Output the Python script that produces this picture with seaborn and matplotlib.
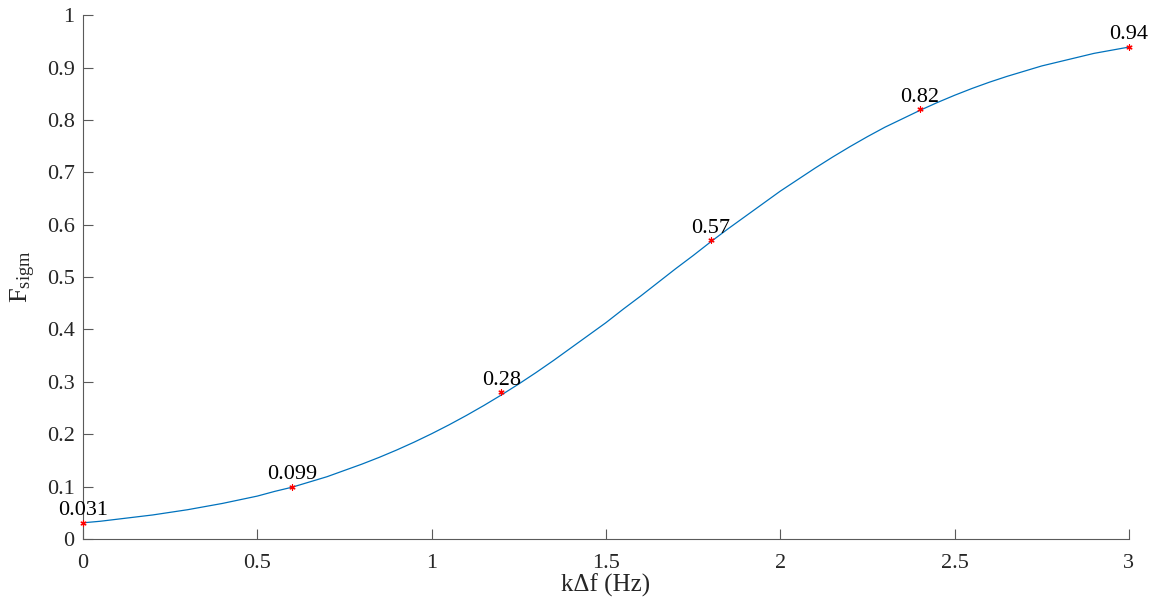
import matplotlib
matplotlib.use("Agg")
import matplotlib.pyplot as plt
import seaborn as sns
import pandas as pd

# Fitted sigmoid curve, sampled every 0.05 Hz
curve_x = [0.00, 0.05, 0.10, 0.15, 0.20, 0.25, 0.30, 0.35, 0.40, 0.45,
           0.50, 0.55, 0.60, 0.65, 0.70, 0.75, 0.80, 0.85, 0.90, 0.95,
           1.00, 1.05, 1.10, 1.15, 1.20, 1.25, 1.30, 1.35, 1.40, 1.45,
           1.50, 1.55, 1.60, 1.65, 1.70, 1.75, 1.80, 1.85, 1.90, 1.95,
           2.00, 2.05, 2.10, 2.15, 2.20, 2.25, 2.30, 2.35, 2.40, 2.45,
           2.50, 2.55, 2.60, 2.65, 2.70, 2.75, 2.80, 2.85, 2.90, 2.95, 3.00]
curve_y = [0.031, 0.034, 0.038, 0.042, 0.046, 0.051, 0.056, 0.062, 0.068, 0.075,
           0.082, 0.091, 0.099, 0.109, 0.119, 0.131, 0.143, 0.156, 0.170, 0.185,
           0.201, 0.218, 0.236, 0.255, 0.275, 0.296, 0.318, 0.341, 0.365, 0.389,
           0.413, 0.439, 0.464, 0.490, 0.516, 0.541, 0.567, 0.592, 0.616, 0.640,
           0.664, 0.686, 0.708, 0.729, 0.749, 0.768, 0.786, 0.802, 0.818, 0.833,
           0.847, 0.860, 0.872, 0.883, 0.893, 0.903, 0.911, 0.919, 0.927, 0.933, 0.939]

# Sample points with their labelled values
pt_x = [0.0, 0.6, 1.2, 1.8, 2.4, 3.0]
pt_y = [0.031, 0.099, 0.28, 0.57, 0.82, 0.94]
pt_labels = ["0.031", "0.099", "0.28", "0.57", "0.82", "0.94"]

x_ticks = [0, 0.5, 1, 1.5, 2, 2.5, 3]
x_ticklabels = ["0", "0.5", "1", "1.5", "2", "2.5", "3"]
y_ticks = [0, 0.1, 0.2, 0.3, 0.4, 0.5, 0.6, 0.7, 0.8, 0.9, 1.0]
y_ticklabels = ["0", "0.1", "0.2", "0.3", "0.4", "0.5", "0.6", "0.7", "0.8", "0.9", "1"]

sns.set_theme(style="ticks")
plt.rcParams["font.family"] = ["Liberation Serif", "DejaVu Serif"]
plt.rcParams["mathtext.fontset"] = "custom"
plt.rcParams["mathtext.rm"] = "Liberation Serif"
plt.rcParams["mathtext.it"] = "Liberation Serif:italic"

axis_color = "#262626"
spine_color = "#5a5a5a"

fig = plt.figure(figsize=(11.59, 6.05), dpi=100)
ax = fig.add_axes([0.0716, 0.109, 0.9024, 0.866])

curve = pd.DataFrame({"x": curve_x, "y": curve_y})
pts = pd.DataFrame({"x": pt_x, "y": pt_y})

sns.lineplot(data=curve, x="x", y="y", ax=ax, color="#0072BD", linewidth=0.9,
             clip_on=False)
# asterisk markers
sns.scatterplot(data=pts, x="x", y="y", ax=ax, marker=(6, 2, 0), color="red",
                s=14, linewidth=0.9, edgecolor="red", zorder=3, clip_on=False)

for xv, yv, lab in zip(pt_x, pt_y, pt_labels):
    ax.annotate(lab, (xv, yv), xytext=(0, 2), textcoords="offset points",
                ha="center", va="bottom", fontsize=16, color="black")

ax.set_xlim(0, 3)
ax.set_ylim(0, 1)
ax.set_xticks(x_ticks)
ax.set_xticklabels(x_ticklabels)
ax.set_yticks(y_ticks)
ax.set_yticklabels(y_ticklabels)

ax.tick_params(axis="both", direction="in", length=7, width=0.8,
               color=spine_color, labelcolor=axis_color, labelsize=16)
ax.tick_params(axis="x", pad=11)
ax.tick_params(axis="y", pad=6)
for side in ("left", "bottom"):
    ax.spines[side].set_color(spine_color)
    ax.spines[side].set_linewidth(0.8)
sns.despine(ax=ax)

ax.set_xlabel("k\u0394f (Hz)", fontsize=18, color=axis_color, labelpad=0)
ax.set_ylabel(r"$\mathregular{F_{sigm}}$", fontsize=19, color=axis_color, labelpad=6)

fig.savefig("out.png", dpi=100)
